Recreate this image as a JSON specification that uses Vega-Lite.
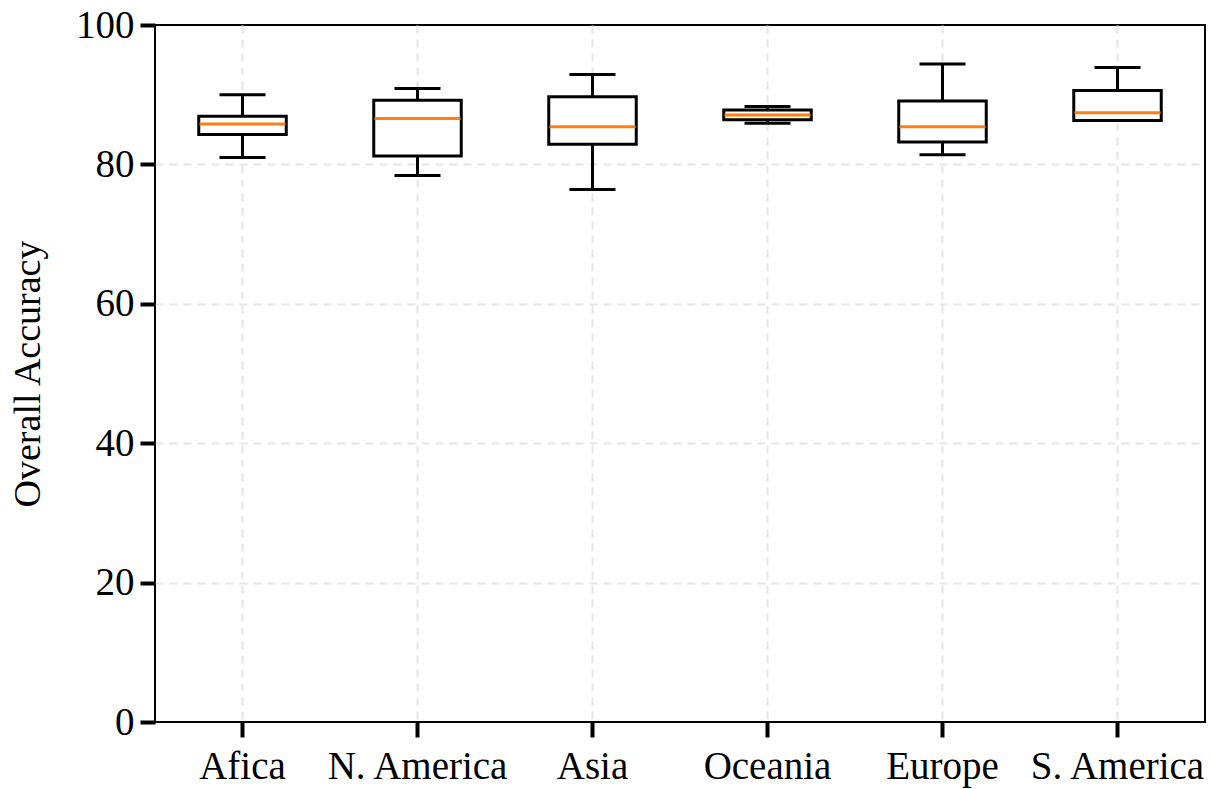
{
  "$schema": "https://vega.github.io/schema/vega-lite/v6.json",
  "autosize": {"type": "none"},
  "padding": {"left": 155, "top": 25, "right": 7, "bottom": 67},
  "width": 1050,
  "height": 697,
  "background": "white",
  "config": {
    "view": {"stroke": "black", "strokeWidth": 2},
    "font": "Liberation Serif",
    "axis": {
      "labelFont": "Liberation Serif",
      "titleFont": "Liberation Serif",
      "labelFontSize": 39,
      "titleFontSize": 38,
      "titleFontWeight": "normal",
      "labelColor": "black",
      "titleColor": "black",
      "tickColor": "black",
      "tickWidth": 4,
      "tickSize": 15,
      "labelLimit": 400,
      "labelOverlap": false,
      "domain": false,
      "grid": true,
      "gridColor": "#e6e6e6",
      "gridWidth": 2,
      "gridDash": [8, 6]
    }
  },
  "data": {
    "values": [
      {"region": "Afica", "lower": 81.0, "q1": 84.3, "median": 85.8, "q3": 86.9, "upper": 90.0},
      {"region": "N. America", "lower": 78.4, "q1": 81.2, "median": 86.6, "q3": 89.2, "upper": 90.9},
      {"region": "Asia", "lower": 76.4, "q1": 82.9, "median": 85.4, "q3": 89.7, "upper": 92.9},
      {"region": "Oceania", "lower": 85.9, "q1": 86.4, "median": 87.1, "q3": 87.8, "upper": 88.3},
      {"region": "Europe", "lower": 81.4, "q1": 83.2, "median": 85.4, "q3": 89.1, "upper": 94.4},
      {"region": "S. America", "lower": 86.3, "q1": 86.3, "median": 87.4, "q3": 90.6, "upper": 93.9}
    ]
  },
  "encoding": {
    "x": {
      "field": "region",
      "type": "nominal",
      "sort": null,
      "scale": {"paddingInner": 0, "paddingOuter": 0},
      "axis": {"title": null, "labelAngle": 0, "labelPadding": 10, "bandPosition": 0.5}
    }
  },
  "layer": [
    {
      "mark": {"type": "rule", "color": "black", "strokeWidth": 3},
      "encoding": {
        "y": {
          "field": "lower",
          "type": "quantitative",
          "scale": {"domain": [0, 100], "nice": false},
          "axis": {
            "title": "Overall Accuracy",
            "values": [0, 20, 40, 60, 80, 100],
            "labelPadding": 6,
            "titlePadding": 28,
            "gridOpacity": {"condition": {"test": "datum.value == 0 || datum.value == 100", "value": 0}, "value": 1}
          }
        },
        "y2": {"field": "upper"}
      }
    },
    {
      "mark": {"type": "bar", "fill": "white", "stroke": "black", "strokeWidth": 3, "width": {"band": 0.5}},
      "encoding": {
        "y": {"field": "q1", "type": "quantitative"},
        "y2": {"field": "q3"}
      }
    },
    {
      "mark": {"type": "tick", "color": "black", "opacity": 1, "size": 46, "thickness": 3},
      "encoding": {"y": {"field": "lower", "type": "quantitative"}}
    },
    {
      "mark": {"type": "tick", "color": "black", "opacity": 1, "size": 46, "thickness": 3},
      "encoding": {"y": {"field": "upper", "type": "quantitative"}}
    },
    {
      "mark": {"type": "tick", "color": "#ff7f0e", "opacity": 1, "size": 86, "thickness": 3},
      "encoding": {"y": {"field": "median", "type": "quantitative"}}
    }
  ]
}
